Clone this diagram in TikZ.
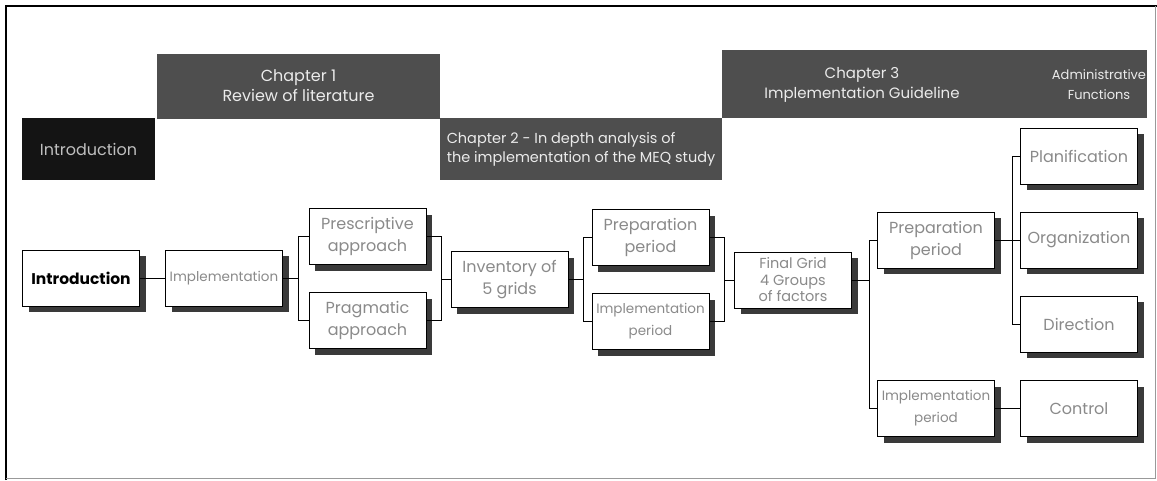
\documentclass[tikz,border=0pt]{standalone}
\usepackage{fontspec}
\setmainfont{Poppins}
\usetikzlibrary{shadows,calc}
\definecolor{hdrgray}{HTML}{4E4E4E}
\definecolor{hdrblack}{HTML}{141414}
\definecolor{shadowgray}{HTML}{3A3A3A}
\definecolor{boxtext}{HTML}{8A8A8A}
\tikzset{
  hdr/.style={fill=hdrgray, text=white!92!black, inner sep=0pt, align=center, font=\fontsize{16}{20}\selectfont},
  cbox/.style={draw=black, line width=0.9pt, fill=white, minimum width=117pt, minimum height=56pt,
     inner sep=1pt, align=center, text=boxtext, font=\fontsize{16}{22}\selectfont,
     drop shadow={shadow xshift=6pt, shadow yshift=-6pt, fill=shadowgray, opacity=1}},
  narrowtext/.style={font=\fontsize{13.5}{22}\selectfont},
  conn/.style={draw=black, line width=0.9pt},
}
\begin{document}
\begin{tikzpicture}[x=1pt,y=-1pt]
\useasboundingbox (0,0) rectangle (1157,480);
% frame
\draw[line width=2.5pt] (6,480) -- (6,6) -- (1157,6);
\draw[line width=0.5pt, black!40] (1155,6) -- (1155,478) -- (6,478);

% headers
\node[hdr, fill=hdrblack, text=black!25, minimum width=133pt, minimum height=62pt] (hintro) at (88.5,149) {Introduction};
\node[hdr, minimum width=283pt, minimum height=65pt] (hch1) at (298.5,86) {Chapter 1\\Review of literature};
\node[hdr, minimum width=282pt, minimum height=62pt, align=left, font=\fontsize{14.5}{19}\selectfont] (hch2) at (581,149) {Chapter 2 - In depth analysis of\\the implementation of the MEQ study};
\node[hdr, minimum width=425pt, minimum height=68pt] (hch3) at (934.5,84) {};
\node[hdr, font=\fontsize{15}{20}\selectfont] (hch3t) at (862,85) {Chapter 3\\Implementation Guideline};
\node[hdr, font=\fontsize{13}{20}\selectfont] (hadm) at (1099,85) {Administrative\\Functions};

% boxes
\node[cbox, text=black, font=\bfseries\fontsize{15.5}{18}\selectfont] (intro) at (81,278) {Introduction};
\node[cbox, font=\fontsize{13.5}{20}\selectfont] (impl) at (224,278) {Implementation};
\node[cbox] (presc) at (367.5,236.5) {Prescriptive\\approach};
\node[cbox] (prag) at (367.5,320.5) {Pragmatic\\approach};
\node[cbox] (inv) at (509.5,279.5) {Inventory of\\5 grids};
\node[cbox] (prep1) at (650.5,237.5) {Preparation\\period};
\node[cbox, narrowtext] (impl1) at (650.5,321.5) {Implementation\\period};
\node[cbox, font=\fontsize{14.5}{16.5}\selectfont] (final) at (793,280) {Final Grid\\4 Groups\\of factors};
\node[cbox] (prep2) at (936,240) {Preparation\\period};
\node[cbox, narrowtext] (impl2) at (936,408.5) {Implementation\\period};
\node[cbox] (plan) at (1079,156) {Planification};
\node[cbox] (org) at (1079,240) {Organization};
\node[cbox] (dir) at (1079,324) {Direction};
\node[cbox] (ctrl) at (1079,408.5) {Control};

% junctions
\coordinate (j1) at ($(impl.east)+(15pt,0)$);
\coordinate (j2) at ($(inv.west)+(-9pt,0)$);
\coordinate (j3) at ($(inv.east)+(15pt,0)$);
\coordinate (j4) at ($(final.west)+(-10pt,0)$);
\coordinate (j5) at ($(final.east)+(17pt,0)$);
\coordinate (j6) at ($(org.west)+(-8pt,0)$);

% connectors
\draw[conn] (intro.east) -- (impl.west);
\draw[conn] (impl.east) -- (j1);
\draw[conn] (presc.west) -| (j1) |- (prag.west);
\draw[conn] (presc.east) -| (j2) |- (prag.east);
\draw[conn] (j2) -- (inv.west);
\draw[conn] (inv.east) -- (j3);
\draw[conn] (prep1.west) -| (j3) |- (impl1.west);
\draw[conn] (prep1.east) -| (j4) |- (impl1.east);
\draw[conn] (j4) -- (final.west);
\draw[conn] (final.east) -- (j5);
\draw[conn] (prep2.west) -| (j5) |- (impl2.west);
\draw[conn] (prep2.east) -- (org.west);
\draw[conn] (plan.west) -| (j6) |- (dir.west);
\draw[conn] (impl2.east) -- (ctrl.west);
\end{tikzpicture}
\end{document}
